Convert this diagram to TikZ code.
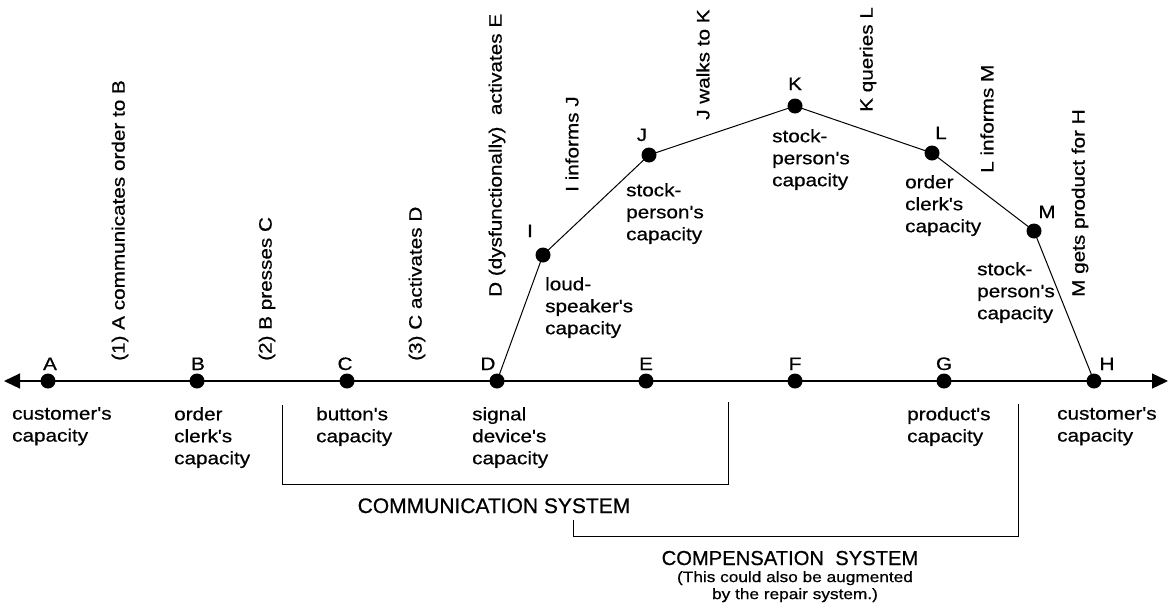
\documentclass[tikz,border=0pt]{standalone}
\usepackage{fontspec}
\setmainfont{Liberation Sans}
\newfontfamily\labfont[FakeStretch=1.15,FakeBold=0.6]{Liberation Sans}
\newfontfamily\sysfont[FakeBold=0.6]{Liberation Sans}
\usetikzlibrary{arrows.meta}
\begin{document}
\begin{tikzpicture}[x=1pt,y=-1pt,
  dot/.style={circle, fill=black, inner sep=0pt, minimum size=15pt},
  ptlab/.style={font=\labfont\fontsize{18}{22}\selectfont, inner sep=0pt, anchor=base},
  txt/.style={font=\labfont\fontsize{18}{22}\selectfont, inner sep=0pt, anchor=north west, align=left},
  vtxt/.style={font=\labfont\fontsize{18}{22}\selectfont, inner sep=0pt, rotate=90, anchor=west},
  link/.style={line width=1pt},
  axisline/.style={line width=1.3pt, {Triangle[length=16pt,width=15pt]}-{Triangle[length=16pt,width=15pt]}},
  brk/.style={line width=0.8pt},
  syslab/.style={inner sep=0pt, anchor=base}
]
\useasboundingbox (0,0) rectangle (1172,614);

% axis points
\node[dot] (A) at (48,381) {};
\node[dot] (B) at (197,381) {};
\node[dot] (C) at (347,381) {};
\node[dot] (D) at (497,381) {};
\node[dot] (E) at (646,381) {};
\node[dot] (F) at (795,381) {};
\node[dot] (G) at (944,381) {};
\node[dot] (H) at (1094,381) {};
% upper points
\node[dot] (I) at (543,255) {};
\node[dot] (J) at (649,155) {};
\node[dot] (K) at (795,106) {};
\node[dot] (L) at (932,153) {};
\node[dot] (M) at (1034,231) {};

\coordinate (LT) at (4,381);
\coordinate (RT) at (1168,381);
\draw[axisline] (LT) -- (RT);
\draw[link] (D.center) -- (I.center) -- (J.center) -- (K.center) -- (L.center) -- (M.center) -- (H.center);

% point letters
\node[ptlab] (lA) at (50,370) {A};
\node[ptlab] (lB) at (198,370) {B};
\node[ptlab] (lC) at (345,370) {C};
\node[ptlab] (lD) at (488,370) {D};
\node[ptlab] (lE) at (646,370) {E};
\node[ptlab] (lF) at (795,370) {F};
\node[ptlab] (lG) at (944,370) {G};
\node[ptlab] (lH) at (1107,370) {H};
\node[ptlab] (lI) at (530,237) {I};
\node[ptlab] (lJ) at (642,141) {J};
\node[ptlab] (lK) at (795,90) {K};
\node[ptlab] (lL) at (941,139) {L};
\node[ptlab] (lM) at (1047,218) {M};

% capacity texts on the axis
\node[txt] (tA) at (12,407) {customer's\\capacity};
\node[txt] (tB) at (174,407) {order\\clerk's\\capacity};
\node[txt] (tC) at (316,407) {button's\\capacity};
\node[txt] (tD) at (472,407) {signal\\device's\\capacity};
\node[txt] (tG) at (907,407) {product's\\capacity};
\node[txt] (tH) at (1057,407) {customer's\\capacity};
% capacity texts on the arc
\node[txt] (tI) at (545,277) {loud-\\speaker's\\capacity};
\node[txt] (tJ) at (626,183) {stock-\\person's\\capacity};
\node[txt] (tK) at (772,129) {stock-\\person's\\capacity};
\node[txt] (tL) at (905,175) {order\\clerk's\\capacity};
\node[txt] (tM) at (977,262) {stock-\\person's\\capacity};

% vertical action texts
\node[vtxt] (v1) at (120,361) {(1) A communicates order to B};
\node[vtxt] (v2) at (267,361) {(2) B presses C};
\node[vtxt] (v3) at (417,361) {(3) C activates D};
\node[vtxt] (v4) at (497,297) {D (dysfunctionally)\ \ activates E};
\node[vtxt] (v5) at (572,192) {I informs J};
\node[vtxt] (v6) at (703,120) {J walks to K};
\node[vtxt] (v7) at (868,112) {K queries L};
\node[vtxt] (v8) at (987,173) {L informs M};
\node[vtxt] (v9) at (1080,297) {M gets product for H};

% system brackets
\coordinate (c1a) at (282,405);
\coordinate (c1b) at (728,402);
\draw[brk] (c1a) -- ++(0,79) -| (c1b);
\coordinate (c2a) at (573,520);
\coordinate (c2b) at (1018,404);
\draw[brk] (c2a) -- ++(0,16) -| (c2b);

\node[syslab, font=\sysfont\fontsize{21}{24}\selectfont] (comm) at (494,513) {COMMUNICATION SYSTEM};
\node[syslab, font=\sysfont\fontsize{20.2}{23}\selectfont] (comp) at (790,565) {COMPENSATION\ \ SYSTEM};
\node[inner sep=0pt, anchor=north, align=center, font=\labfont\fontsize{15}{17}\selectfont] (note) at (795,571) {(This could also be augmented\\by the repair system.)};
\end{tikzpicture}
\end{document}
